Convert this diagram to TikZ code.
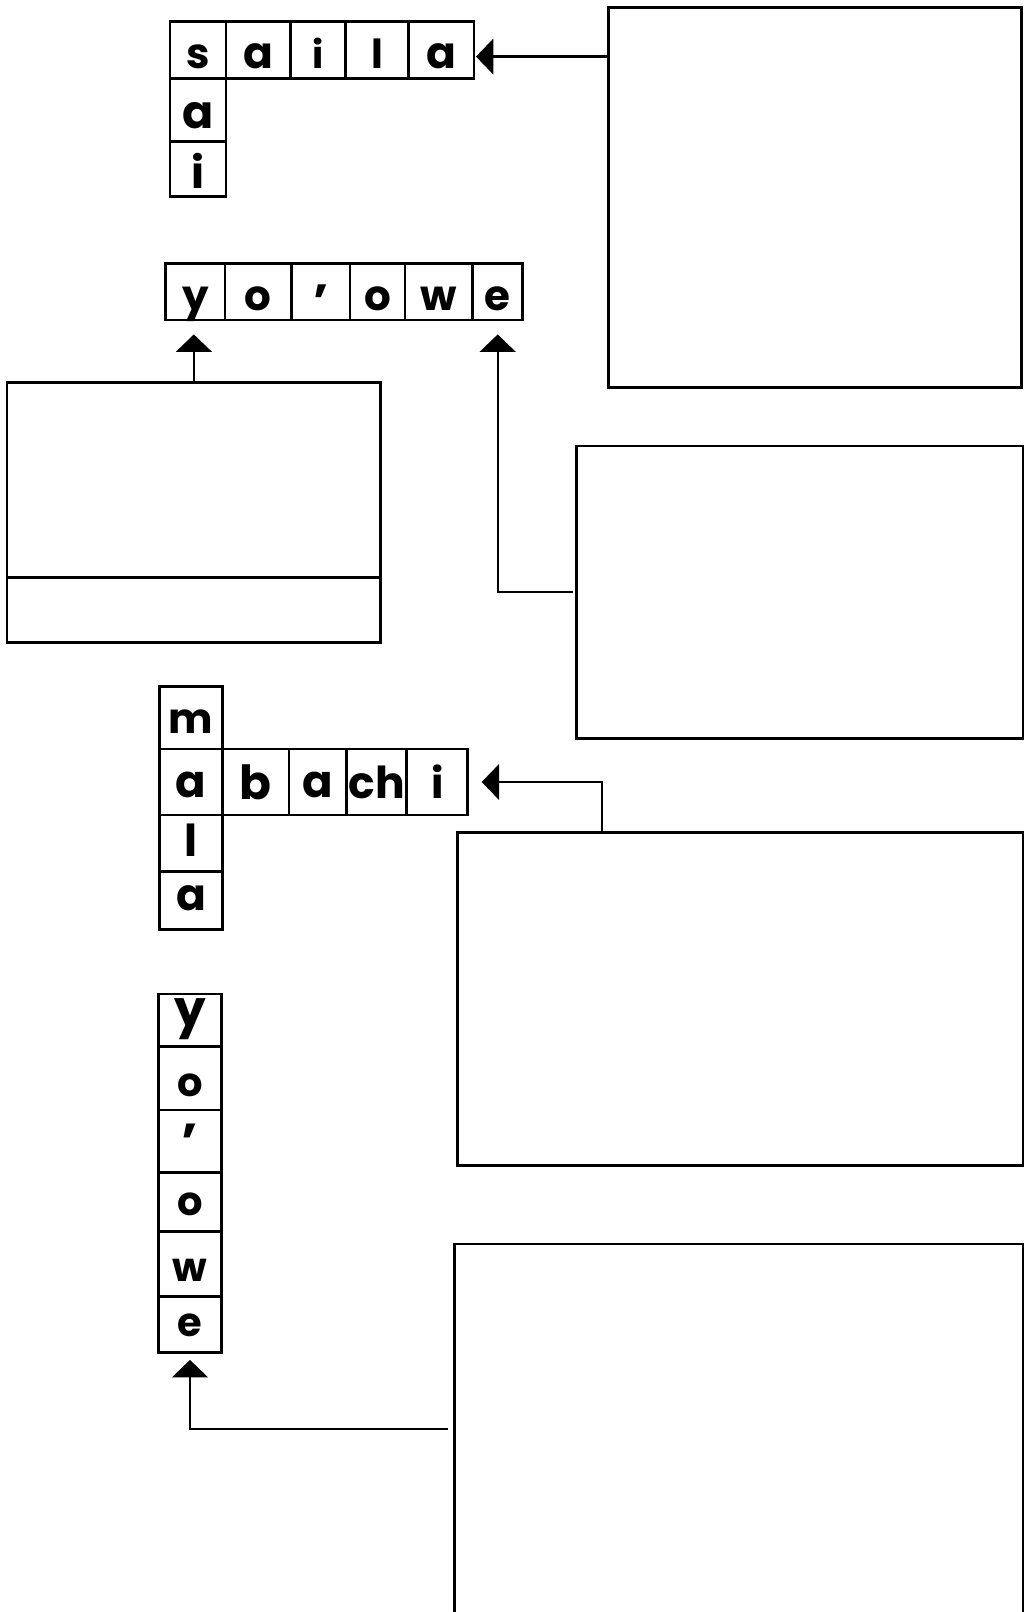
\documentclass[tikz,border=0pt]{standalone}
\usepackage{fontspec}
\setmainfont{Poppins}
\usetikzlibrary{arrows.meta}

\begin{document}
\begin{tikzpicture}[x=.5pt,y=-.5pt,
  cell/.style 2 args={draw,line width=1.4pt,inner sep=0pt,outer sep=0pt,font=\bfseries\fontsize{#1}{#1}\selectfont,text height=#2,text depth=0pt},
  panel/.style={draw,line width=1.4pt,inner sep=0pt,outer sep=0pt},
  link/.style={line width=1.2pt,-{Triangle[length=8.7pt,width=17.8pt]}}]
\useasboundingbox (0,0) rectangle (1028,1612);
\node[cell={21}{18.4pt},minimum width=28pt,minimum height=28.3pt] (sa1) at (198,50) {s};
\node[cell={22}{18.4pt},minimum width=32.35pt,minimum height=28.3pt] (sa2) at (258.35,50) {a};
\node[cell={19}{18.4pt},minimum width=27.5pt,minimum height=28.3pt] (sa3) at (318.2,50) {i};
\node[cell={20}{18.4pt},minimum width=31.3pt,minimum height=28.3pt] (sa4) at (377,50) {l};
\node[cell={22}{18.4pt},minimum width=32.85pt,minimum height=28.3pt] (sa5) at (441.15,50) {a};
\node[cell={23}{18.4pt},minimum width=28pt,minimum height=31.7pt] (sb2) at (198,110) {a};
\node[cell={22}{19pt},minimum width=28pt,minimum height=27.5pt] (sb3) at (198,169.2) {i};
\node[cell={21}{18.4pt},minimum width=29.65pt,minimum height=28.35pt] (yw1) at (195.35,291.65) {y};
\node[cell={21}{18.4pt},minimum width=33.35pt,minimum height=28.35pt] (yw2) at (258.35,291.65) {o};
\node[cell={24}{26.6pt},minimum width=29.15pt,minimum height=28.35pt] (yw3) at (320.85,291.65) {’};
\node[cell={21}{18.4pt},minimum width=27.5pt,minimum height=28.35pt] (yw4) at (377.5,291.65) {o};
\node[cell={21}{18.4pt},minimum width=33.85pt,minimum height=28.35pt] (yw5) at (438.85,291.65) {w};
\node[cell={21}{18.4pt},minimum width=25pt,minimum height=28.35pt] (yw6) at (497.7,291.65) {e};
\node[cell={21}{15.4pt},minimum width=31.7pt,minimum height=31.15pt] (ml1) at (191,717.85) {m};
\node[cell={22.5}{15.4pt},minimum width=31.7pt,minimum height=33pt] (ml2) at (191,782) {a};
\node[cell={22}{13.4pt},minimum width=31.7pt,minimum height=28.35pt] (ml3) at (191,843.35) {l};
\node[cell={22}{9.5pt},minimum width=31.7pt,minimum height=28.8pt] (ml4) at (191,900.5) {a};
\node[cell={23.5}{17.6pt},minimum width=33.15pt,minimum height=33pt] (ab2) at (255.85,782) {b};
\node[cell={22.5}{15.4pt},minimum width=28.85pt,minimum height=33pt] (ab3) at (317.85,782) {a};
\node[cell={22}{16.4pt},minimum width=30pt,minimum height=33pt] (ab4) at (376.7,782) {ch};
\node[cell={21}{16.4pt},minimum width=30.5pt,minimum height=33pt] (ab5) at (437.2,782) {i};
\node[cell={25}{6pt},minimum width=31.7pt,minimum height=26.35pt] (yc1) at (190,1020.35) {y};
\node[cell={20}{18.4pt},minimum width=31.7pt,minimum height=31.65pt] (yc2) at (190,1078.35) {o};
\node[cell={26}{19pt},minimum width=31.7pt,minimum height=31.35pt] (yc3) at (190,1141.35) {’};
\node[cell={20}{12.8pt},minimum width=31.7pt,minimum height=29.5pt] (yc4) at (190,1202.2) {o};
\node[cell={20}{17.4pt},minimum width=31.7pt,minimum height=32.5pt] (yc5) at (190,1264.2) {w};
\node[cell={20}{12pt},minimum width=31.7pt,minimum height=28pt] (yc6) at (190,1324.7) {e};
\node[panel,minimum width=206.6pt,minimum height=190.2pt] (box1) at (815.2,197.4) {};
\node[panel,minimum width=186.95pt,minimum height=97.55pt] (boxLtop) at (193.85,480.15) {};
\node[panel,minimum width=186.95pt,minimum height=32.35pt] (boxLbot) at (193.85,610.05) {};
\node[panel,minimum width=223.1pt,minimum height=146.15pt] (box2) at (799.8,592.15) {};
\node[panel,minimum width=282.8pt,minimum height=166.55pt] (box3) at (740.1,999.25) {};
\node[panel,minimum width=284.2pt,minimum height=193pt] (box4) at (738.7,1437) {};
\coordinate (t1) at ([yshift=-3.3pt]sa5.east);
\draw[link,shorten >=1pt] (t1 -| box1.west) -- (t1);
\draw[link,shorten >=7.2pt] (boxLtop.north) -- (boxLtop.north |- yw1.south);
\draw[link,shorten >=7.2pt,shorten <=1.8pt] (box2.west) -| (yw6.south);
\draw[link,shorten >=7pt] ([xshift=72.2pt]box3.north west) |- (ab5.east);
\draw[link,shorten >=3.6pt,shorten <=3.5pt] ([yshift=3.9pt]box4.west) -| (yc6.south);
\end{tikzpicture}
\end{document}
